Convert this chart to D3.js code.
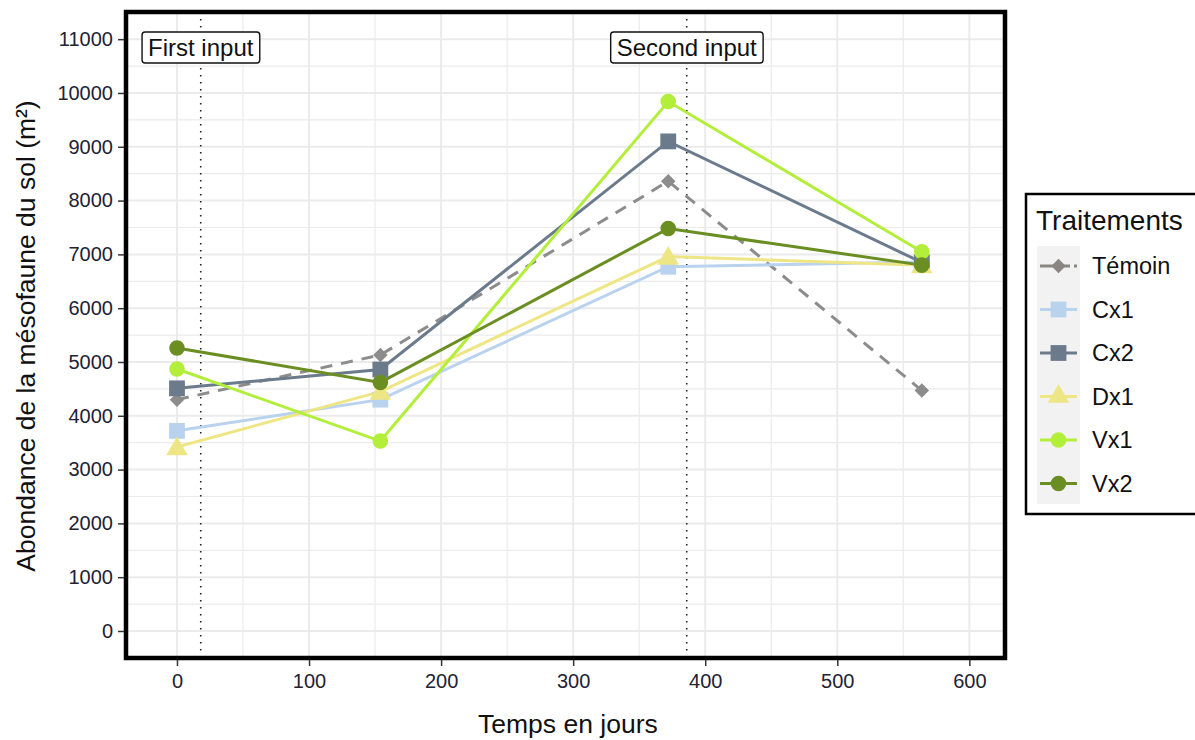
<!DOCTYPE html>
<html><head><meta charset="utf-8">
<script src="https://cdn.jsdelivr.net/npm/d3@7"></script>
<style>body{margin:0;background:#fff;font-family:"Liberation Sans",Arial,sans-serif;}</style>
</head><body><svg id="c" width="1195" height="740"></svg>
<script>
const days = [0, 154, 372, 564];
const temoin = [4300, 5130, 8360, 4470];
const cx1 = [3720, 4300, 6770, 6860];
const cx2 = [4510, 4860, 9100, 6850];
const dx1 = [3420, 4450, 6960, 6800];
const vx1 = [4870, 3530, 9840, 7050];
const vx2 = [5260, 4620, 7480, 6800];
const seriesNames = ["Témoin", "Cx1", "Cx2", "Dx1", "Vx1", "Vx2"];
const seriesColors = ["#8a8682", "#b9d3ee", "#6c7b8b", "#eee685", "#b3ee3a", "#6b8e23"];
const seriesShapes = ["diamond", "square", "square", "triangle", "circle", "circle"];
const inputDays = [18, 386];
const inputLabels = ["First input", "Second input"];
const xTicks = [0, 100, 200, 300, 400, 500, 600];
const yTicks = [0,1000,2000,3000,4000,5000,6000,7000,8000,9000,10000,11000];

const allValues = [temoin, cx1, cx2, dx1, vx1, vx2];
const svg = d3.select("#c");
const L = 126, R = 1005, T = 12, B = 658;
const x = d3.scaleLinear().domain([-38.6, 627]).range([L, R]);
const y = d3.scaleLinear().domain([-502, 11505]).range([B, T]);

// grid
const g = svg.append("g");
const xMinor = d3.range(-50, 651, 50).filter(v => x(v) > L && x(v) < R);
const yMinor = d3.range(-500, 11501, 500).filter(v => y(v) > T && y(v) < B);
g.selectAll(".vx").data(xMinor).enter().append("line")
 .attr("x1", d => x(d)).attr("x2", d => x(d)).attr("y1", T).attr("y2", B)
 .attr("stroke", "#ebebeb").attr("stroke-width", d => d % 100 === 0 ? 2 : 1.2);
g.selectAll(".hy").data(yMinor).enter().append("line")
 .attr("y1", d => y(d)).attr("y2", d => y(d)).attr("x1", L).attr("x2", R)
 .attr("stroke", "#ebebeb").attr("stroke-width", d => d % 1000 === 0 ? 2 : 1.2);

// vertical input lines
svg.selectAll(".vl").data(inputDays).enter().append("line")
 .attr("x1", d => x(d)).attr("x2", d => x(d)).attr("y1", T).attr("y2", B)
 .attr("stroke", "#222").attr("stroke-width", 1.6).attr("stroke-dasharray", "1.6,5.4");

// lines
const lineGen = d3.line().x((d, i) => x(days[i])).y(d => y(d));
const order = [0, 1, 2, 3, 4, 5];
order.forEach(si => {
  svg.append("path").datum(allValues[si]).attr("d", lineGen)
   .attr("fill", "none").attr("stroke", si === 0 ? "#8c8c8c" : seriesColors[si]).attr("stroke-width", 3)
   .attr("stroke-dasharray", si === 0 ? "12,9" : null);
});
function symbolFor(shape, size) {
  if (shape === "diamond") return d3.symbol().type(d3.symbolSquare).size(size)();
  const t = {square: d3.symbolSquare, triangle: d3.symbolTriangle, circle: d3.symbolCircle}[shape];
  return d3.symbol().type(t).size(size)();
}
const sizes = {diamond: 105, square: 250, triangle: 200, circle: 190};
order.forEach(si => {
  const sh = seriesShapes[si];
  svg.selectAll(".p" + si).data(allValues[si]).enter().append("path")
   .attr("d", symbolFor(sh, sizes[sh]))
   .attr("transform", (d, i) => `translate(${x(days[i])},${y(d) + (sh==="triangle"?2:0)})` + (sh === "diamond" ? " rotate(45)" : ""))
   .attr("fill", si === 0 ? "#8c8c8c" : seriesColors[si]);
});

// labels
inputDays.forEach((d, i) => {
  const gt = svg.append("g");
  const t = gt.append("text").attr("x", x(d)).attr("y", 56).attr("text-anchor", "middle")
   .attr("font-size", 24).attr("fill", "#111").text(inputLabels[i]);
  const bb = t.node().getBBox();
  gt.insert("rect", "text").attr("x", bb.x - 6).attr("y", 32).attr("width", bb.width + 12).attr("height", 31)
   .attr("rx", 3).attr("fill", "#fff").attr("stroke", "#111").attr("stroke-width", 1.4);
});

// border
svg.append("rect").attr("x", L).attr("y", T).attr("width", R - L).attr("height", B - T)
 .attr("fill", "none").attr("stroke", "#000").attr("stroke-width", 4.5);

// axes
const xa = svg.append("g").attr("transform", `translate(0,${B + 2})`)
 .call(d3.axisBottom(x).tickValues(xTicks).tickSize(6).tickPadding(8).tickFormat(d3.format("d")));
const ya = svg.append("g").attr("transform", `translate(${L - 2},0)`)
 .call(d3.axisLeft(y).tickValues(yTicks).tickSize(6).tickPadding(5).tickFormat(d3.format("d")));
[xa, ya].forEach(a => {
  a.select(".domain").remove();
  a.selectAll("line").attr("stroke", "#333").attr("stroke-width", 1.5);
  a.selectAll("text").attr("font-size", 20).attr("fill", "#222233").attr("font-family", "Liberation Sans, Arial, sans-serif");
});

svg.append("text").attr("x", x(296)).attr("y", 733).attr("text-anchor", "middle")
 .attr("font-size", 26.5).attr("fill", "#111").text("Temps en jours");
svg.append("text").attr("transform", `translate(35,${336}) rotate(-90)`).attr("text-anchor", "middle")
 .attr("font-size", 26.5).attr("fill", "#111").text("Abondance de la mésofaune du sol (m²)");

// legend
const lg = svg.append("g");
lg.append("rect").attr("x", 1026).attr("y", 194).attr("width", 175).attr("height", 320)
 .attr("fill", "#fff").attr("stroke", "#000").attr("stroke-width", 2.5);
lg.append("text").attr("x", 1036).attr("y", 230).attr("font-size", 28).attr("fill", "#111").text("Traitements");
lg.append("rect").attr("x", 1037).attr("y", 246).attr("width", 43).attr("height", 258).attr("fill", "#f2f2f2");
seriesNames.forEach((n, i) => {
  const cy = 266 + i * 43.5;
  const sh = seriesShapes[i];
  lg.append("line").attr("x1", 1040).attr("x2", 1077).attr("y1", cy).attr("y2", cy)
   .attr("stroke", seriesColors[i]).attr("stroke-width", 3).attr("stroke-dasharray", i === 0 ? "13,4" : null);
  lg.append("path").attr("d", symbolFor(sh, sizes[sh]))
   .attr("transform", `translate(1058.5,${cy})` + (sh === "diamond" ? " rotate(45)" : ""))
   .attr("fill", seriesColors[i]);
  lg.append("text").attr("x", 1092).attr("y", cy + 8).attr("font-size", 23.5).attr("fill", "#111").text(n);
});
</script></body></html>
